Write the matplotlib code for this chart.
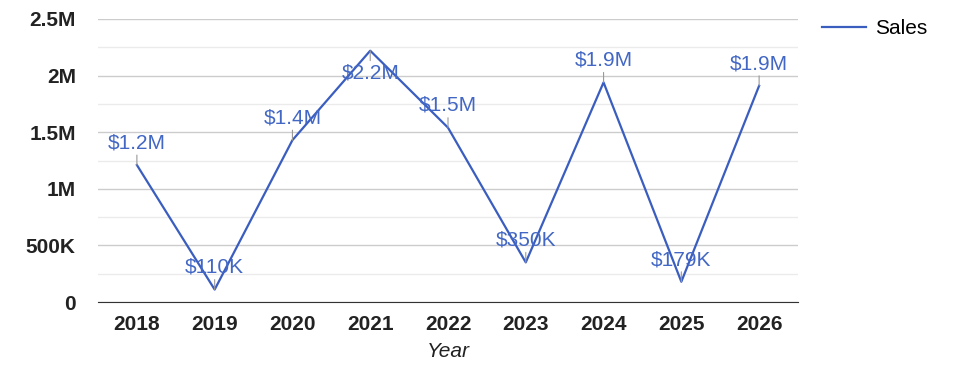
import matplotlib.pyplot as plt
from matplotlib.ticker import FuncFormatter, MultipleLocator

years = ['2018', '2019', '2020', '2021', '2022', '2023', '2024', '2025', '2026']
sales = [1210000, 110000, 1430000, 2220000, 1540000, 350000, 1940000, 179000, 1910000]
labels = ['$1.2M', '$110K', '$1.4M', '$2.2M', '$1.5M', '$350K', '$1.9M', '$179K', '$1.9M']
below = [False, False, False, True, False, False, False, False, False]

plt.rcParams['font.family'] = ['Liberation Sans', 'DejaVu Sans']

fig = plt.figure(figsize=(9.75, 3.78), dpi=100)
ax = fig.add_axes([98 / 975, 1 - 302 / 378, 700 / 975, 283 / 378])

x = list(range(len(years)))
ax.plot(x, sales, color='#3a5dc0', linewidth=1.6, label='Sales', zorder=3)

for i in x:
    off = -16 if below[i] else 16
    ax.annotate(labels[i], (x[i], sales[i]), xytext=(0, off), textcoords='offset points',
                ha='center', va='center', fontsize=15, color='#4267c4',
                arrowprops=dict(arrowstyle='-', color='#999999', lw=0.8, shrinkA=0, shrinkB=0),
                zorder=4)

ax.set_xlim(-0.5, len(years) - 0.5)
ax.set_ylim(0, 2500000)
ax.set_xticks(x)
ax.set_xticklabels(years)
ax.yaxis.set_major_locator(MultipleLocator(500000))
ax.yaxis.set_minor_locator(MultipleLocator(250000))


def fmt(v, pos):
    if v == 0:
        return '0'
    if v >= 1000000:
        return '{:g}M'.format(v / 1000000)
    return '{:g}K'.format(v / 1000)


ax.yaxis.set_major_formatter(FuncFormatter(fmt))
ax.grid(which='major', axis='y', color='#cccccc', linewidth=1)
ax.grid(which='minor', axis='y', color='#ebebeb', linewidth=1)
ax.set_axisbelow(True)
for s in ['top', 'right', 'left']:
    ax.spines[s].set_visible(False)
ax.spines['bottom'].set_color('#333333')
ax.tick_params(axis='both', which='both', length=0)
ax.tick_params(axis='y', pad=16)
ax.tick_params(axis='x', pad=9)
for t in ax.get_xticklabels() + ax.get_yticklabels():
    t.set_fontsize(15)
    t.set_fontweight('bold')
    t.set_color('#222222')

ax.set_xlabel('Year', fontsize=15, style='italic', color='#222222', labelpad=6)

fig.legend(loc='upper left', bbox_to_anchor=(822 / 975, 1 - 19 / 378), frameon=False,
           fontsize=15, handlelength=2.1, handletextpad=0.45, borderpad=0, borderaxespad=0)

plt.savefig('out.png')
